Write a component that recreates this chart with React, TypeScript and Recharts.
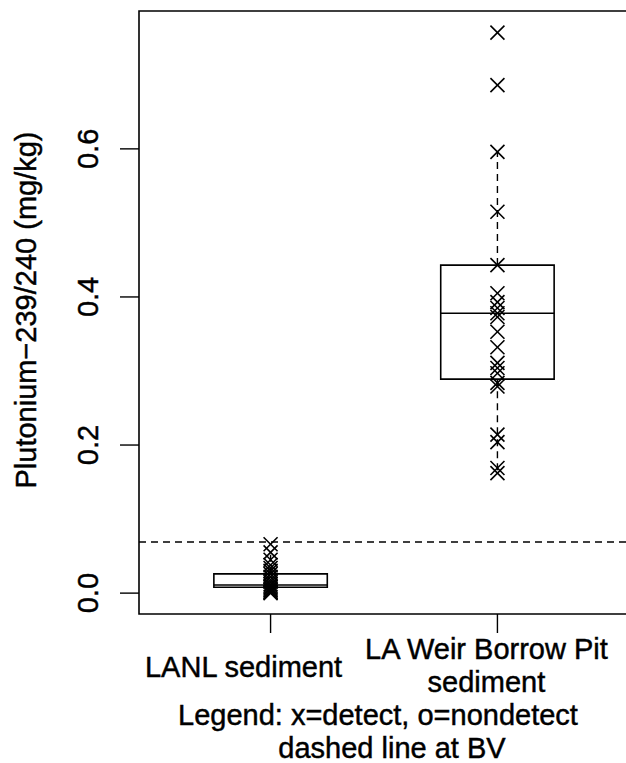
import {
  ComposedChart,
  Scatter,
  XAxis,
  YAxis,
  ReferenceArea,
  ReferenceLine,
} from "recharts";

// groups on the x axis (positions 1 and 2)
const categories = ["LANL sediment", "LA Weir Borrow Pit|sediment"];
const positions = [1, 2];

// measured values, mg/kg
const lanlValues = [
  0.066, 0.055, 0.045, 0.038, 0.034, 0.03, 0.026, 0.022, 0.018, 0.015,
  0.012, 0.01, 0.008, 0.006, 0.004, 0.002, 0.001, 0.0,
];
const weirValues = [
  0.757, 0.686, 0.596, 0.515, 0.443, 0.405, 0.393, 0.385, 0.378, 0.373,
  0.353, 0.332, 0.311, 0.304, 0.297, 0.284, 0.279, 0.214, 0.204, 0.169,
  0.162,
];

// box statistics per group
const q1s = [0.008, 0.289];
const medians = [0.011, 0.378];
const q3s = [0.026, 0.443];
const whiskerLows = [0.0, 0.162];
const whiskerHighs = [0.055, 0.596];

const bv = 0.069;
const yTicks = [0, 0.2, 0.4, 0.6];
const yDomain = [-0.0282, 0.7862];
const xDomain = [0.42, 2.58];
const halfBox = 0.25;

const FONT = "'Liberation Sans', Arial, sans-serif";
const FS = 29;
// text looks a bit heavy in the original, thicken it slightly
const textStyle = {
  fontFamily: FONT,
  fontSize: FS,
  fill: "#000",
  stroke: "#000",
  strokeWidth: 0.45,
};

const lanlData = lanlValues.map((v) => ({ x: positions[0], y: v }));
const weirData = weirValues.map((v) => ({ x: positions[1], y: v }));

const XMark = (props: any) => {
  const { cx, cy } = props;
  const s = 7;
  return (
    <g stroke="#000" strokeWidth={1.6}>
      <line x1={cx - s} y1={cy - s} x2={cx + s} y2={cy + s} />
      <line x1={cx - s} y1={cy + s} x2={cx + s} y2={cy - s} />
    </g>
  );
};

const YTick = (props: any) => {
  const { x, y, payload } = props;
  return (
    <text
      x={x}
      y={y}
      transform={`rotate(-90 ${x} ${y})`}
      textAnchor="middle"
      {...textStyle}
    >
      {payload.value.toFixed(1)}
    </text>
  );
};

// label centres sit a little left of the tick marks in the original
const labelShift = [-27, -11];

const XTick = (props: any) => {
  const { x, payload } = props;
  const idx = positions.indexOf(payload.value);
  const lines = categories[idx].split("|");
  const base = lines.length === 1 ? 677 : 659;
  return (
    <text textAnchor="middle" {...textStyle}>
      {lines.map((l, i) => (
        <tspan key={i} x={x + labelShift[idx]} y={base + i * 33}>
          {l}
        </tspan>
      ))}
    </text>
  );
};

export default function App() {
  return (
    <div style={{ position: "absolute", left: 0, top: 0, background: "#fff" }}>
      <ComposedChart
        width={626}
        height={763}
        margin={{ top: 11, right: -3, bottom: 0, left: 0 }}
      >
        <XAxis
          type="number"
          dataKey="x"
          domain={xDomain}
          ticks={positions}
          tickSize={19}
          tickLine={{ stroke: "#000", strokeWidth: 1.4 }}
          axisLine={false}
          height={149}
          tick={<XTick />}
          allowDataOverflow
          label={{
            content: () => (
              <text textAnchor="middle" {...textStyle}>
                <tspan x={378} y={725}>
                  Legend: x=detect, o=nondetect
                </tspan>
                <tspan x={392} y={758}>
                  dashed line at BV
                </tspan>
              </text>
            ),
          }}
        />
        <YAxis
          type="number"
          domain={yDomain}
          ticks={yTicks}
          width={139}
          tickSize={19}
          tickMargin={22}
          tickLine={{ stroke: "#000", strokeWidth: 1.4 }}
          axisLine={false}
          tick={<YTick />}
          allowDataOverflow
          label={{
            content: () => (
              <text
                x={36}
                y={310}
                transform="rotate(-90 36 310)"
                textAnchor="middle"
                {...textStyle}
              >
                Plutonium−239/240 (mg/kg)
              </text>
            ),
          }}
        />
        <ReferenceArea
          x1={xDomain[0]}
          x2={xDomain[1]}
          y1={yDomain[0]}
          y2={yDomain[1]}
          fill="none"
          stroke="#000"
          strokeWidth={1.6}
        />
        <ReferenceLine
          y={bv}
          stroke="#000"
          strokeWidth={1.4}
          strokeDasharray="7 5"
        />
        {positions.map((p, i) => (
          <ReferenceArea
            key={`box-${i}`}
            x1={p - halfBox}
            x2={p + halfBox}
            y1={q1s[i]}
            y2={q3s[i]}
            fill="none"
            stroke="#000"
            strokeWidth={1.6}
          />
        ))}
        {positions.map((p, i) => (
          <ReferenceLine
            key={`med-${i}`}
            segment={[
              { x: p - halfBox, y: medians[i] },
              { x: p + halfBox, y: medians[i] },
            ]}
            stroke="#000"
            strokeWidth={1.4}
          />
        ))}
        {positions.map((p, i) => (
          <ReferenceLine
            key={`wh-${i}`}
            segment={[
              { x: p, y: q3s[i] },
              { x: p, y: whiskerHighs[i] },
            ]}
            stroke="#000"
            strokeWidth={1.4}
            strokeDasharray="7 5"
          />
        ))}
        {positions.map((p, i) => (
          <ReferenceLine
            key={`wl-${i}`}
            segment={[
              { x: p, y: q1s[i] },
              { x: p, y: whiskerLows[i] },
            ]}
            stroke="#000"
            strokeWidth={1.4}
            strokeDasharray="7 5"
          />
        ))}
        <Scatter
          data={lanlData}
          dataKey="y"
          shape={<XMark />}
          isAnimationActive={false}
        />
        <Scatter
          data={weirData}
          dataKey="y"
          shape={<XMark />}
          isAnimationActive={false}
        />
      </ComposedChart>
    </div>
  );
}
